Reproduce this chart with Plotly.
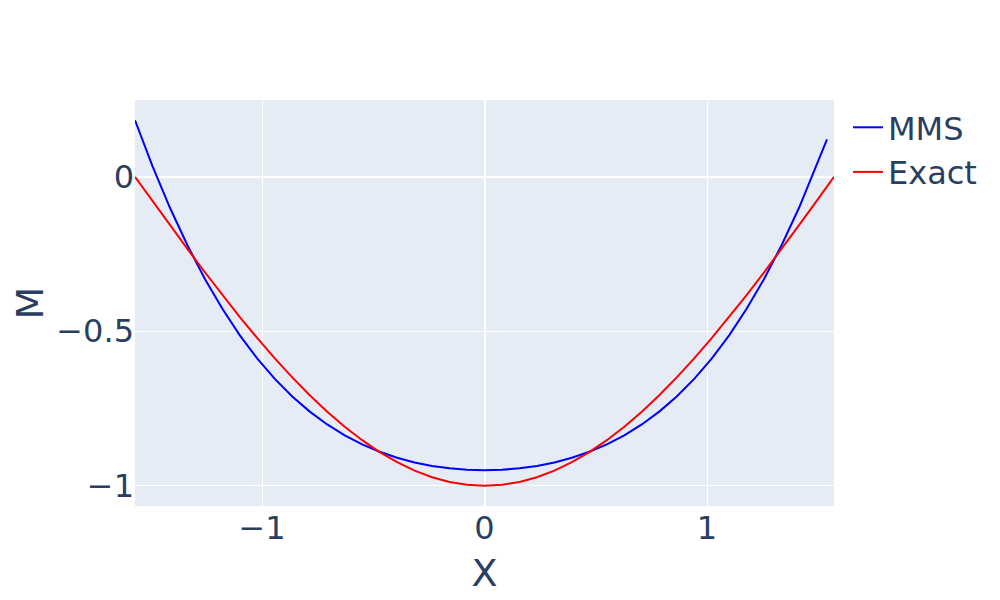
import plotly.graph_objects as go

# MMS solution samples
mms_x = [-1.5708, -1.4923, -1.4137, -1.3352, -1.2566, -1.1781, -1.0996, -1.0210,
         -0.9425, -0.8639, -0.7854, -0.7069, -0.6283, -0.5498, -0.4712, -0.3927,
         -0.3142, -0.2356, -0.1571, -0.0785, 0.0, 0.0785, 0.1571, 0.2356,
         0.3142, 0.3927, 0.4712, 0.5498, 0.6283, 0.7069, 0.7854, 0.8639,
         0.9425, 1.0210, 1.0996, 1.1781, 1.2566, 1.3352, 1.4137, 1.4923, 1.5394]
mms_m = [0.1830, 0.0345, -0.1002, -0.2216, -0.3305, -0.4274, -0.5132, -0.5885,
         -0.6543, -0.7112, -0.7601, -0.8017, -0.8368, -0.8661, -0.8901, -0.9095,
         -0.9246, -0.9360, -0.9438, -0.9485, -0.9500, -0.9485, -0.9438, -0.9360,
         -0.9246, -0.9095, -0.8901, -0.8661, -0.8368, -0.8017, -0.7601, -0.7112,
         -0.6543, -0.5885, -0.5132, -0.4274, -0.3305, -0.2216, -0.1002, 0.0345, 0.1210]

# exact solution samples
exact_x = [-1.5708, -1.4923, -1.4137, -1.3352, -1.2566, -1.1781, -1.0996, -1.0210,
           -0.9425, -0.8639, -0.7854, -0.7069, -0.6283, -0.5498, -0.4712, -0.3927,
           -0.3142, -0.2356, -0.1571, -0.0785, 0.0, 0.0785, 0.1571, 0.2356,
           0.3142, 0.3927, 0.4712, 0.5498, 0.6283, 0.7069, 0.7854, 0.8639,
           0.9425, 1.0210, 1.0996, 1.1781, 1.2566, 1.3352, 1.4137, 1.4923, 1.5708]
exact_m = [0.0, -0.0785, -0.1564, -0.2335, -0.3090, -0.3827, -0.4540, -0.5225,
           -0.5878, -0.6494, -0.7071, -0.7604, -0.8090, -0.8526, -0.8910, -0.9239,
           -0.9511, -0.9724, -0.9877, -0.9969, -1.0, -0.9969, -0.9877, -0.9724,
           -0.9511, -0.9239, -0.8910, -0.8526, -0.8090, -0.7604, -0.7071, -0.6494,
           -0.5878, -0.5225, -0.4540, -0.3827, -0.3090, -0.2335, -0.1564, -0.0785, 0.0]

fig = go.Figure()
fig.add_trace(go.Scatter(x=mms_x, y=mms_m, mode="lines", name="MMS",
                         line=dict(color="blue", width=2)))
fig.add_trace(go.Scatter(x=exact_x, y=exact_m, mode="lines", name="Exact",
                         line=dict(color="red", width=2)))

fig.update_layout(
    width=1000, height=600,
    font=dict(family="DejaVu Sans", size=32),
    margin=dict(l=127, r=174, t=92, b=102),
    xaxis=dict(title=dict(text="X", standoff=13), dtick=1, automargin=False),
    yaxis=dict(title=dict(text="M", standoff=16), dtick=0.5, automargin=False),
)

fig.write_html("out.html")
